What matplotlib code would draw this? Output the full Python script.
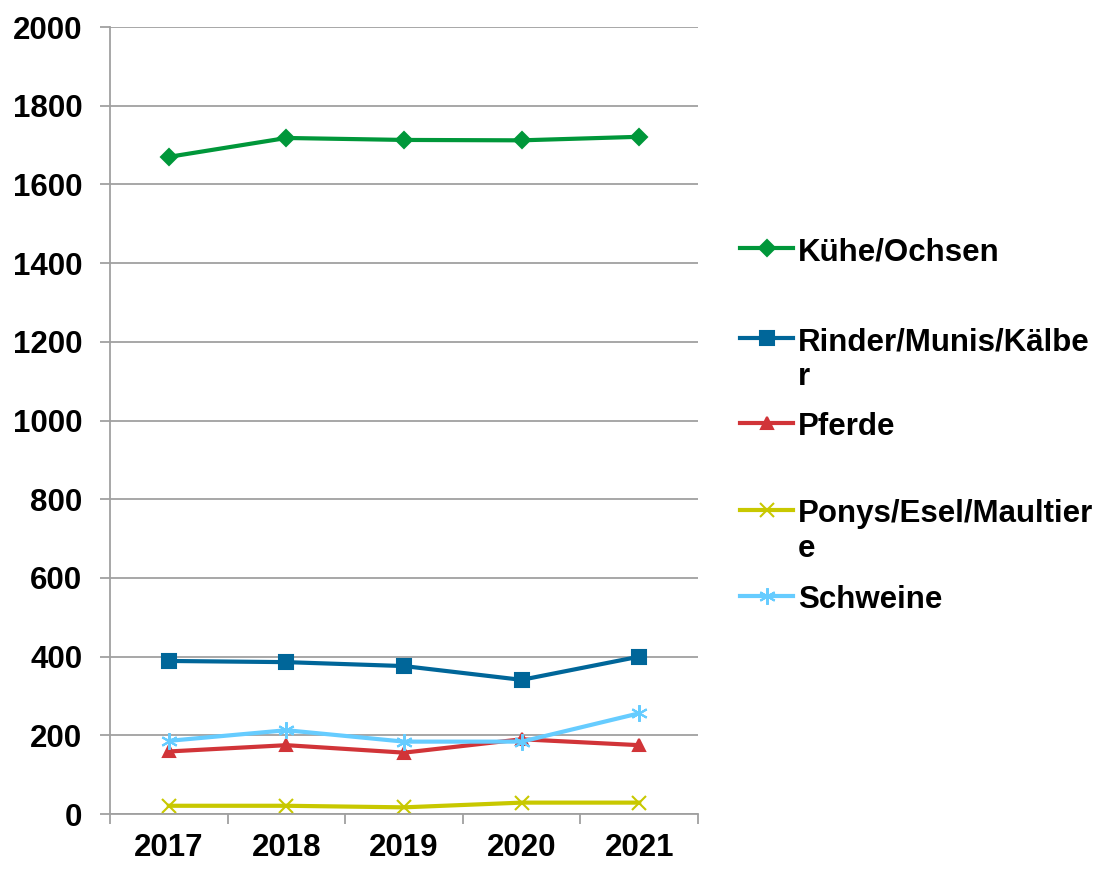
from matplotlib import pyplot as plt
from matplotlib.lines import Line2D
import numpy as np

plt.rcParams['font.family'] = ['Liberation Sans', 'DejaVu Sans']
plt.rcParams['font.weight'] = 'bold'

years = ['2017', '2018', '2019', '2020', '2021']
kuehe = [1670, 1718, 1713, 1712, 1721]
rinder = [389, 386, 376, 341, 400]
pferde = [159, 175, 156, 190, 175]
ponys = [21, 21, 17, 29, 29]
schweine = [186, 213, 184, 184, 256]

labels = ['Kühe/Ochsen', 'Rinder/Munis/Kälbe\nr', 'Pferde', 'Ponys/Esel/Maultier\ne', 'Schweine']
series = [kuehe, rinder, pferde, ponys, schweine]
colors = ['#00973a', '#006699', '#d13438', '#c8c800', '#66ccff']
markers = ['D', 's', '^', 'x', (6, 2, 0)]
msizes = [8, 10, 9, 10, 12]
FS = 22.5

fig = plt.figure(figsize=(11.06, 8.71), dpi=100)
ax = fig.add_axes([0.0995, 0.0654, 0.5316, 0.9036])

x = np.arange(len(years))
for vals, c, m, ms in zip(series, colors, markers, msizes):
    ax.plot(x, vals, color=c, lw=3, marker=m, ms=ms, mew=1.5, mec=c, mfc=c)

ax.set_xlim(-0.5, len(years) - 0.5)
ax.set_ylim(0, 2000)
ax.set_yticks(np.arange(0, 2001, 200))
ax.yaxis.grid(True, color='#a0a0a0', lw=1.3)
ax.set_axisbelow(True)

# category labels centred, tick marks on the boundaries
ax.set_xticks(x)
ax.set_xticklabels(years)
ax.set_xticks(np.arange(-0.5, len(years)), minor=True)
ax.tick_params(axis='x', which='major', length=0, pad=14, labelsize=FS)
ax.tick_params(axis='x', which='minor', length=7, width=1.3, color='#a0a0a0', direction='out')
ax.tick_params(axis='y', length=7, width=1.3, color='#a0a0a0', labelsize=FS, pad=13)

for s in ['top', 'right']:
    ax.spines[s].set_visible(False)
for s in ['left', 'bottom']:
    ax.spines[s].set_color('#a0a0a0')
    ax.spines[s].set_linewidth(1.3)

# legend on the right
leg_y = [248, 338, 423, 510, 596]
for lab, c, m, ms, yy in zip(labels, colors, markers, msizes, leg_y):
    fy = 1 - yy / 871
    fig.add_artist(Line2D([740 / 1106, 793 / 1106], [fy, fy], color=c, lw=3,
                          transform=fig.transFigure))
    fig.add_artist(Line2D([766.5 / 1106], [fy], color=c, lw=0, marker=m, ms=ms,
                          mew=1.5, mec=c, mfc=c, transform=fig.transFigure))
    fig.text(798 / 1106, fy + 0.0125, lab, fontsize=FS, fontweight='bold',
             va='top', ha='left', linespacing=1.2)

fig.savefig('out.png', dpi=100)
